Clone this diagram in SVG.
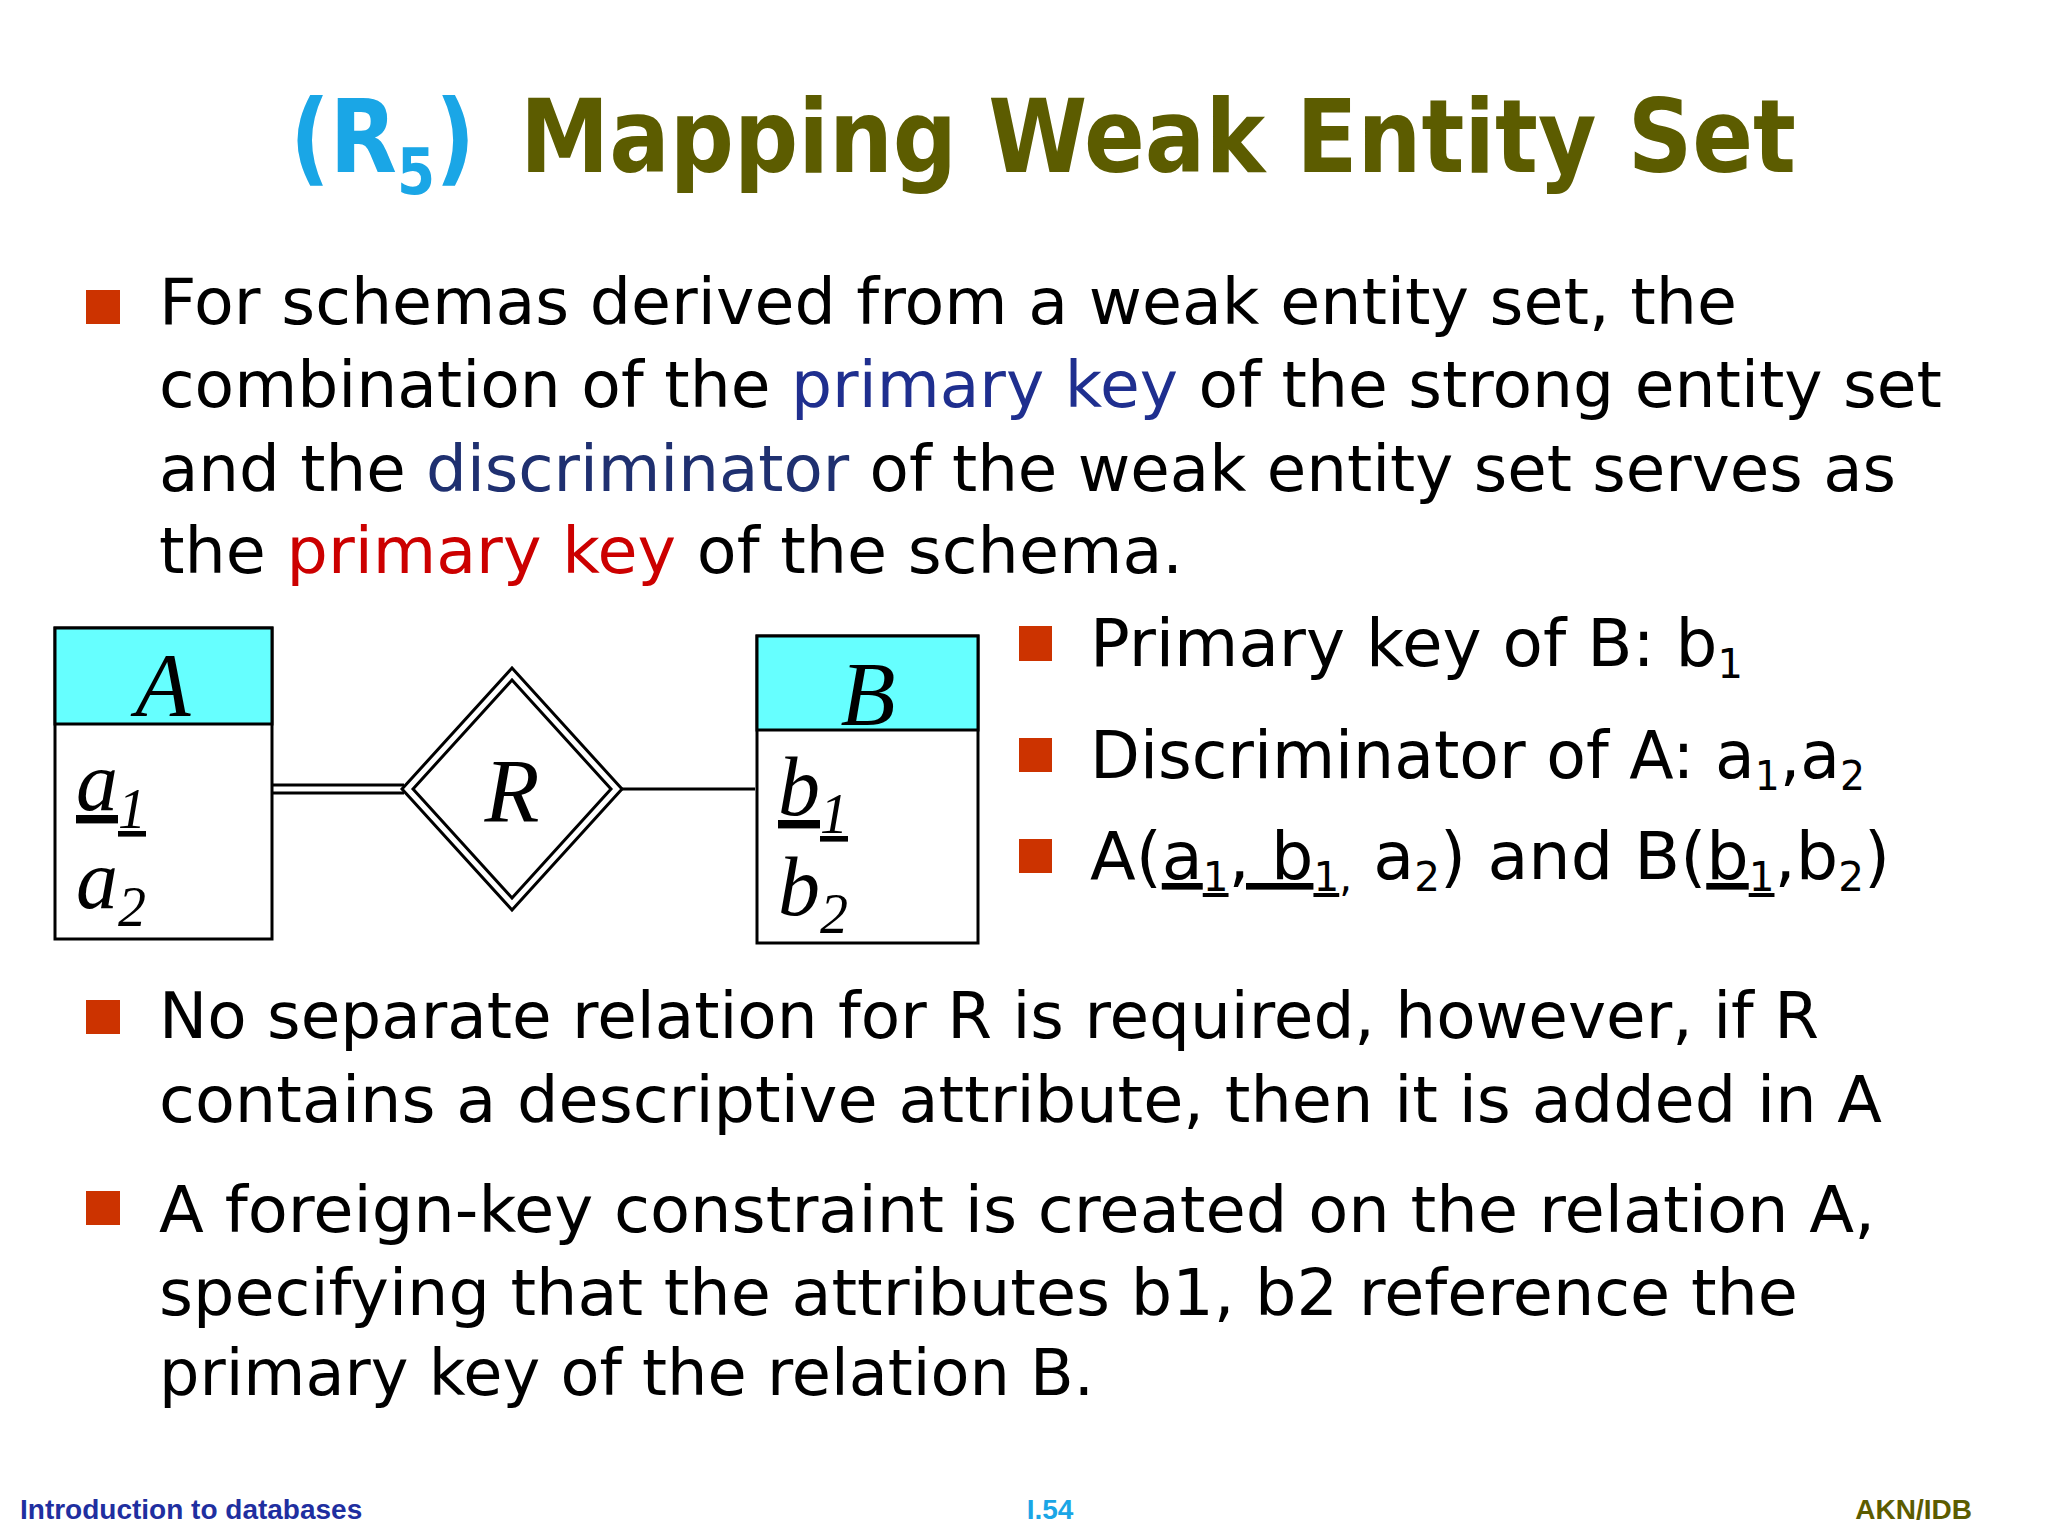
<svg xmlns="http://www.w3.org/2000/svg" width="2048" height="1536" viewBox="0 0 2048 1536">
<style>
.t{font-family:"DejaVu Sans",sans-serif;font-size:64px;fill:#000}
.r{font-family:"DejaVu Sans",sans-serif;font-size:66px;fill:#000}
.bul{fill:#cc3300}
.er{font-family:"Liberation Serif",serif;font-style:italic;fill:#000}
.box{fill:#fff;stroke:#000;stroke-width:3}
.hdr{fill:#66ffff;stroke:#000;stroke-width:3}
.u{text-decoration:underline}
.ft{font-family:"Liberation Sans",sans-serif;font-weight:bold;font-size:28px}
</style>
<rect width="2048" height="1536" fill="#fff"/>
<g id="title" font-family="DejaVu Sans,sans-serif" font-weight="bold" font-size="102">
<text x="290" y="172" fill="#1aa6e6" textLength="185" lengthAdjust="spacingAndGlyphs">(R<tspan font-size="64" dy="22">5</tspan><tspan dy="-22">)</tspan></text>
<text x="520" y="172" fill="#5c5c00" textLength="1276" lengthAdjust="spacingAndGlyphs">Mapping Weak Entity Set</text>
</g>
<g id="bullet1">
<rect class="bul" x="86" y="290" width="34" height="34"/>
<text class="t" x="159" y="324" textLength="1578" lengthAdjust="spacingAndGlyphs">For schemas derived from a weak entity set, the</text>
<text class="t" x="159" y="407" textLength="1783" lengthAdjust="spacingAndGlyphs">combination of the <tspan fill="#1f2f8f">primary key</tspan> of the strong entity set</text>
<text class="t" x="159" y="491" textLength="1737" lengthAdjust="spacingAndGlyphs">and the <tspan fill="#1f3070">discriminator</tspan> of the weak entity set serves as</text>
<text class="t" x="159" y="573" textLength="1024" lengthAdjust="spacingAndGlyphs">the <tspan fill="#cc0000">primary key</tspan> of the schema.</text>
</g>
<g id="connectors" stroke="#000" stroke-width="3" fill="none">
<line x1="272" y1="785" x2="404" y2="785"/>
<line x1="272" y1="793" x2="404" y2="793"/>
<line x1="622" y1="789" x2="755" y2="789"/>
</g>
<g id="A">
<rect class="box" x="55" y="628" width="217" height="311"/>
<rect class="hdr" x="55" y="628" width="217" height="96"/>
<text class="er" x="163" y="716" font-size="90" text-anchor="middle">A</text>
<text class="er" x="76" y="810" font-size="84"><tspan class="u">a</tspan><tspan class="u" font-size="56" dy="18">1</tspan></text>
<text class="er" x="76" y="908" font-size="84">a<tspan font-size="56" dy="18">2</tspan></text>
</g>
<g id="R">
<polygon points="512,668 622,789 512,910 402,789" fill="#fff" stroke="#000" stroke-width="3"/>
<polygon points="512,680 611,789 512,898 413,789" fill="none" stroke="#000" stroke-width="3"/>
<text class="er" x="512" y="822" font-size="90" text-anchor="middle">R</text>
</g>
<g id="B">
<rect class="box" x="757" y="636" width="221" height="307"/>
<rect class="hdr" x="757" y="636" width="221" height="94"/>
<text class="er" x="868" y="725" font-size="90" text-anchor="middle">B</text>
<text class="er" x="778" y="815" font-size="84"><tspan class="u">b</tspan><tspan class="u" font-size="56" dy="18">1</tspan></text>
<text class="er" x="778" y="915" font-size="84">b<tspan font-size="56" dy="18">2</tspan></text>
</g>
<g id="rightbullets">
<rect class="bul" x="1019" y="626" width="33" height="35"/>
<text class="r" x="1090" y="666">Primary key of B: b<tspan font-size="40" dy="12">1</tspan></text>
<rect class="bul" x="1019" y="738" width="33" height="34"/>
<text class="r" x="1090" y="778" textLength="775" lengthAdjust="spacingAndGlyphs">Discriminator of A: a<tspan font-size="40" dy="12">1</tspan><tspan dy="-12">,a</tspan><tspan font-size="40" dy="12">2</tspan></text>
<rect class="bul" x="1019" y="839" width="33" height="34"/>
<text class="r" x="1090" y="879" textLength="800" lengthAdjust="spacingAndGlyphs">A(<tspan class="u">a</tspan><tspan class="u" font-size="40" dy="12">1</tspan><tspan class="u" dy="-12">, b</tspan><tspan class="u" font-size="40" dy="12">1</tspan><tspan font-size="40">,</tspan><tspan dy="-12"> a</tspan><tspan font-size="40" dy="12">2</tspan><tspan dy="-12">) and B(</tspan><tspan class="u">b</tspan><tspan class="u" font-size="40" dy="12">1</tspan><tspan dy="-12">,b</tspan><tspan font-size="40" dy="12">2</tspan><tspan dy="-12">)</tspan></text>
</g>
<g id="bullet2">
<rect class="bul" x="86" y="1000" width="34" height="34"/>
<text class="t" x="159" y="1038" textLength="1660" lengthAdjust="spacingAndGlyphs">No separate relation for R is required, however, if R</text>
<text class="t" x="159" y="1122" textLength="1723" lengthAdjust="spacingAndGlyphs">contains a descriptive attribute, then it is added in A</text>
</g>
<g id="bullet3">
<rect class="bul" x="86" y="1191" width="34" height="34"/>
<text class="t" x="159" y="1232" textLength="1716" lengthAdjust="spacingAndGlyphs">A foreign-key constraint is created on the relation A,</text>
<text class="t" x="159" y="1315" textLength="1639" lengthAdjust="spacingAndGlyphs">specifying that the attributes b1, b2 reference the</text>
<text class="t" x="159" y="1395" textLength="935" lengthAdjust="spacingAndGlyphs">primary key of the relation B.</text>
</g>
<g id="footer">
<text class="ft" x="20" y="1519" fill="#1f2fa0">Introduction to databases</text>
<text class="ft" x="1050" y="1519" fill="#1aa6e6" text-anchor="middle">I.54</text>
<text class="ft" x="1972" y="1519" fill="#5c5c00" text-anchor="end">AKN/IDB</text>
</g>
</svg>
